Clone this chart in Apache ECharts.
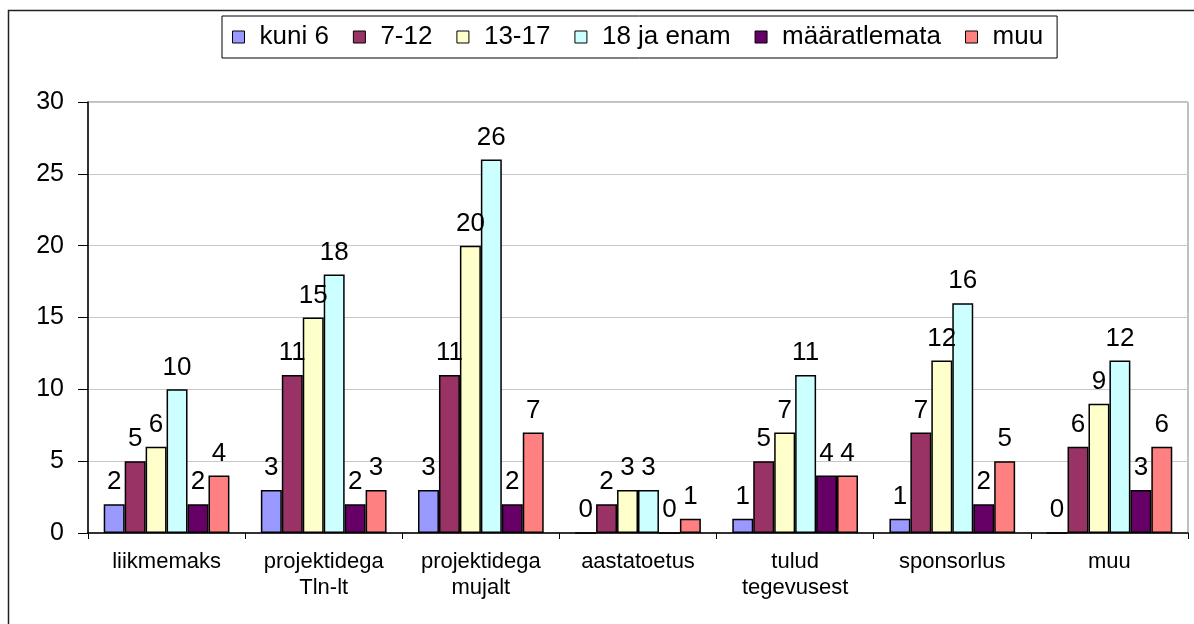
<!DOCTYPE html>
<html>
<head>
<meta charset="utf-8">
<script src="https://cdn.jsdelivr.net/npm/echarts@6/dist/echarts.min.js"></script>
<style>
  html, body { margin: 0; padding: 0; background: #fff; }
  #chart { width: 1194px; height: 624px; }
</style>
</head>
<body>
<div id="chart"></div>
<script>
// kategooriad ja andmed
var categories = ['liikmemaks', 'projektidega\nTln-lt', 'projektidega\nmujalt', 'aastatoetus', 'tulud\ntegevusest', 'sponsorlus', 'muu'];
var seriesNames = ['kuni 6', '7-12', '13-17', '18 ja enam', 'määratlemata', 'muu'];
var kuni6 = [2, 3, 3, 0, 1, 1, 0];
var v7_12 = [5, 11, 11, 2, 5, 7, 6];
var v13_17 = [6, 15, 20, 3, 7, 12, 9];
var v18 = [10, 18, 26, 3, 11, 16, 12];
var maaratlemata = [2, 2, 2, 0, 4, 2, 3];
var muu = [4, 3, 7, 1, 4, 5, 6];
var yTicks = [0, 5, 10, 15, 20, 25, 30];

var colors = ['#9999FF', '#993366', '#FFFFCC', '#CCFFFF', '#660066', '#FF8080'];
var allData = [kuni6, v7_12, v13_17, v18, maaratlemata, muu];
var font = 'Liberation Sans, Arial, sans-serif';

var chart = echarts.init(document.getElementById('chart'));

var series = seriesNames.map(function (name, i) {
  return {
    name: name,
    type: 'bar',
    data: allData[i],
    barGap: '0%',
    barCategoryGap: '20%',
    itemStyle: { color: colors[i], borderColor: '#000', borderWidth: 1.5 },
    label: {
      show: true,
      position: 'top',
      distance: 9,
      color: '#000',
      fontSize: 26,
      fontFamily: font
    }
  };
});

var option = {
  backgroundColor: '#fff',
  animation: false,
  color: colors,
  // välimine raam
  graphic: [{
    type: 'rect',
    shape: { x: 8.5, y: 10.5, width: 1200, height: 625 },
    style: { fill: 'none', stroke: '#222', lineWidth: 1.5 },
    silent: true
  }],
  legend: {
    top: 16,
    left: 222,
    data: seriesNames,
    icon: 'rect',
    itemWidth: 12,
    itemHeight: 12,
    itemGap: 24,
    padding: [8, 14, 8, 10],
    borderColor: '#000',
    borderWidth: 1,
    itemStyle: { borderColor: '#000', borderWidth: 1 },
    textStyle: { fontSize: 26, color: '#000', fontFamily: font, padding: [0, 0, 0, 10] }
  },
  grid: {
    left: 88,
    right: 6,
    top: 102,
    bottom: 91,
    show: true,
    borderColor: '#808080',
    borderWidth: 1
  },
  xAxis: {
    type: 'category',
    data: categories,
    axisLine: { lineStyle: { color: '#000', width: 1.5 } },
    axisTick: { show: true, length: 6, lineStyle: { color: '#000' } },
    axisLabel: {
      color: '#000',
      fontSize: 22,
      lineHeight: 26,
      margin: 16,
      fontFamily: font
    }
  },
  yAxis: {
    type: 'value',
    min: yTicks[0],
    max: yTicks[yTicks.length - 1],
    interval: 5,
    axisLine: { show: true, lineStyle: { color: '#000', width: 1.5 } },
    axisTick: { show: true, length: 10, lineStyle: { color: '#000' } },
    splitLine: { show: true, lineStyle: { color: '#c8c8c8', width: 1 } },
    axisLabel: {
      color: '#000',
      fontSize: 25,
      margin: 24,
      fontFamily: font
    }
  },
  series: series
};

chart.setOption(option);
</script>
</body>
</html>
